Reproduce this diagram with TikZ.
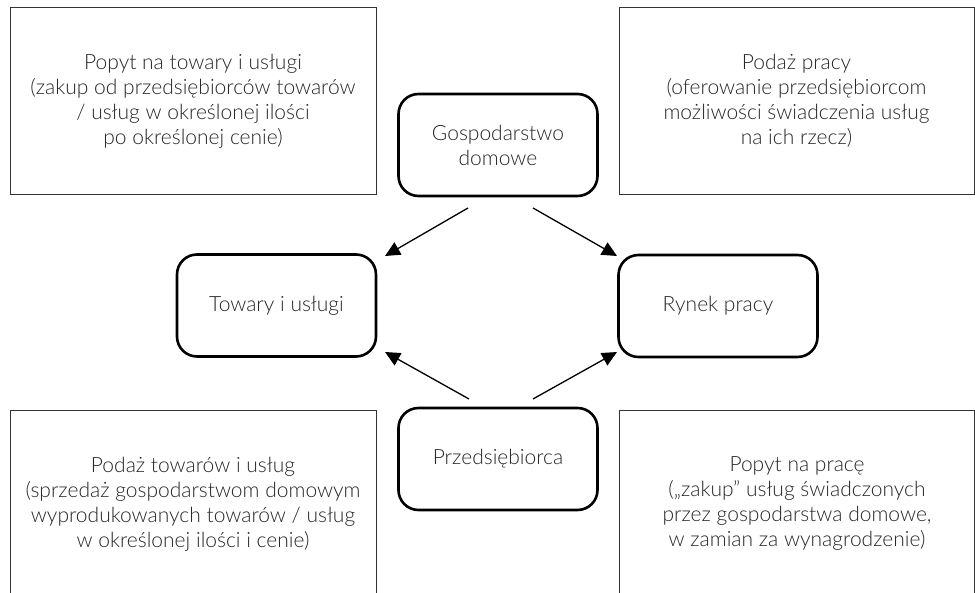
\documentclass[tikz,border=0pt]{standalone}
\usepackage{fontspec}
\setmainfont{Lato}[UprightFont={* Light}]
\usetikzlibrary{arrows.meta}
\tikzset{
  infobox/.style={draw=black!80, line width=0.9pt, minimum width=366pt, minimum height=187pt, align=center, text=black!85, font=\fontsize{21}{25}\selectfont, inner sep=0pt},
  centerbox/.style={draw=black, line width=2.6pt, rounded corners=20pt, minimum width=199pt, minimum height=102pt, align=center, text=black!85, font=\fontsize{21}{25}\selectfont, inner sep=0pt},
  flow/.style={line width=1.3pt, -{Triangle[length=15pt,width=14pt]}}
}
\begin{document}
\begin{tikzpicture}[x=1pt,y=-1pt]
\useasboundingbox (0,0) rectangle (975,593);
\node[infobox] (tl) at (193,101) {Popyt na towary i usługi\\(zakup od przedsiębiorców towarów\\/ usług w określonej ilości\\po określonej cenie)};
\node[infobox, minimum width=355pt] (tr) at (796.5,101) {Podaż pracy\\(oferowanie przedsiębiorcom\\możliwości świadczenia usług\\na ich rzecz)};
\node[infobox] (bl) at (193,504) {Podaż towarów i usług\\(sprzedaż gospodarstwom domowym\\wyprodukowanych towarów / usług\\w określonej ilości i cenie)};
\node[infobox, minimum width=355pt] (br) at (797,504) {Popyt na pracę\\(„zakup” usług świadczonych\\przez gospodarstwa domowe,\\w zamian za wynagrodzenie)};
\node[centerbox] (gd) at (498,145) {Gospodarstwo\\domowe};
\node[centerbox] (tu) at (276.5,305.5) {Towary i usługi};
\node[centerbox] (rp) at (718,306) {Rynek pracy};
\node[centerbox] (pr) at (498,459) {Przedsiębiorca};
\coordinate (a1s) at (468,208);
\coordinate (a1e) at (385,256);
\coordinate (a2s) at (533,208);
\coordinate (a2e) at (617,256);
\coordinate (a3s) at (469,399);
\coordinate (a3e) at (385,352);
\coordinate (a4s) at (533,399);
\coordinate (a4e) at (617,352);
\draw[flow] (a1s) -- (a1e);
\draw[flow] (a2s) -- (a2e);
\draw[flow] (a3s) -- (a3e);
\draw[flow] (a4s) -- (a4e);
\end{tikzpicture}
\end{document}
